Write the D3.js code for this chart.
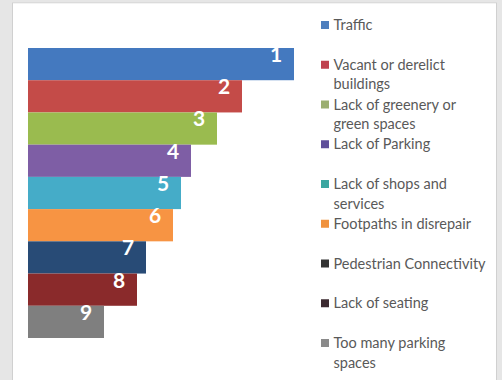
<!DOCTYPE html>
<html>
<head>
<meta charset="utf-8">
<script src="https://cdn.jsdelivr.net/npm/d3@7"></script>
<style>
  html, body { margin: 0; padding: 0; background: #e6e6e6; }
  svg { display: block; }
</style>
</head>
<body>
<svg id="chart" width="502" height="380"></svg>
<script>
// Street issues, ranked by number of responses
const categories = [
  "Traffic",
  "Vacant or derelict buildings",
  "Lack of greenery or green spaces",
  "Lack of Parking",
  "Lack of shops and services",
  "Footpaths in disrepair",
  "Pedestrian Connectivity",
  "Lack of seating",
  "Too many parking spaces"
];
const responses = [266, 214, 189, 163, 153, 145, 118, 109, 76];
const ranks = ["1", "2", "3", "4", "5", "6", "7", "8", "9"];
// Legend text, wrapped as it is shown
const legendLines = [
  ["Traffic"],
  ["Vacant or derelict", "buildings"],
  ["Lack of greenery or", "green spaces"],
  ["Lack of Parking"],
  ["Lack of shops and", "services"],
  ["Footpaths in disrepair"],
  ["Pedestrian Connectivity"],
  ["Lack of seating"],
  ["Too many parking", "spaces"]
];
const barColors = ["#4479bf", "#c44b48", "#9abb4f", "#7e5ea5", "#45acc8", "#f79443", "#284b76", "#8a2a2b", "#7f7f7f"];
const keyColors = ["#4e7fbe", "#c0414e", "#9bae70", "#5f4f9a", "#3aa6a0", "#f0923e", "#333333", "#3b2a30", "#8a8a8a"];

const svg = d3.select("#chart");

// white card
svg.append("rect").attr("x", 12.5).attr("y", 3).attr("width", 484).attr("height", 380)
  .attr("fill", "#ffffff").attr("stroke", "#d0d0d0").attr("stroke-width", 1);
svg.append("rect").attr("x", 13).attr("y", 3.5).attr("width", 483).attr("height", 380)
  .attr("fill", "#ffffff");

const x = d3.scaleLinear().domain([0, d3.max(responses)]).range([28, 294]);
const y = d3.scaleBand().domain(categories).range([48, 338]).padding(0);

const rows = categories.map((c, i) => ({ c, v: responses[i], r: ranks[i], col: barColors[i] }));

svg.append("g").selectAll("rect").data(rows).join("rect")
  .attr("x", x(0))
  .attr("y", d => y(d.c))
  .attr("width", d => x(d.v) - x(0))
  .attr("height", y.bandwidth())
  .attr("fill", d => d.col);

svg.append("g").selectAll("text").data(rows).join("text")
  .attr("x", d => x(d.v) - 18)
  .attr("y", d => y(d.c) + 14)
  .attr("text-anchor", "middle")
  .attr("font-family", "Lato, 'Open Sans', sans-serif")
  .attr("font-weight", "bold")
  .attr("font-size", 21)
  .attr("fill", "#ffffff")
  .text(d => d.r);

// legend
const ly = d3.scaleLinear().domain([0, categories.length - 1]).range([30, 348]);
const leg = svg.append("g").selectAll("g").data(categories).join("g")
  .attr("transform", (d, i) => `translate(321,${ly(i)})`);
leg.append("rect").attr("x", 0).attr("y", -9).attr("width", 8).attr("height", 8)
  .attr("fill", (d, i) => keyColors[i]);
leg.append("text")
  .attr("font-family", "Lato, sans-serif")
  .attr("font-size", 14.5)
  .attr("fill", "#595959")
  .selectAll("tspan").data((d, i) => legendLines[i]).join("tspan")
  .attr("x", 12.5)
  .attr("y", (t, j) => j * 19.5)
  .text(t => t);
</script>
</body>
</html>
